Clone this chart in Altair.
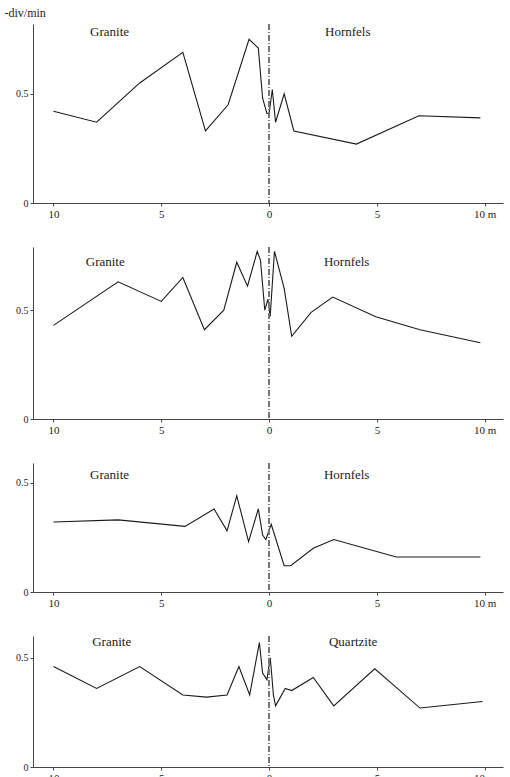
import altair as alt
import pandas as pd

# ---- data (distance in m: granite side negative, other side positive) ----
p1_x = [-10, -8, -6, -4, -2.95, -1.9, -0.93, -0.5, -0.3, -0.1, 0.0, 0.15, 0.3, 0.7, 1.15, 4.05, 6.95, 9.8]
p1_y = [0.42, 0.37, 0.55, 0.69, 0.33, 0.45, 0.75, 0.71, 0.48, 0.41, 0.41, 0.52, 0.37, 0.50, 0.33, 0.27, 0.40, 0.39]

p2_x = [-10, -7, -5, -4, -3, -2.1, -1.5, -1.0, -0.55, -0.4, -0.2, -0.05, 0.05, 0.25, 0.7, 1.05, 1.95, 2.95, 4.95, 7.0, 9.8]
p2_y = [0.43, 0.63, 0.54, 0.65, 0.41, 0.50, 0.72, 0.61, 0.77, 0.73, 0.50, 0.55, 0.47, 0.77, 0.60, 0.38, 0.49, 0.56, 0.47, 0.41, 0.35]

p3_x = [-10, -7, -3.9, -2.55, -1.95, -1.5, -0.95, -0.5, -0.3, -0.15, 0.1, 0.7, 1.0, 2.05, 3.0, 5.9, 9.8]
p3_y = [0.32, 0.33, 0.30, 0.38, 0.28, 0.44, 0.23, 0.38, 0.26, 0.24, 0.31, 0.12, 0.12, 0.20, 0.24, 0.16, 0.16]

p4_x = [-10, -8, -6, -4, -2.9, -1.95, -1.4, -0.9, -0.45, -0.3, -0.1, 0.05, 0.1, 0.2, 0.3, 0.75, 1.05, 2.05, 3.0, 4.9, 7.0, 9.9]
p4_y = [0.46, 0.36, 0.46, 0.33, 0.32, 0.33, 0.46, 0.33, 0.57, 0.43, 0.40, 0.50, 0.45, 0.33, 0.28, 0.36, 0.35, 0.41, 0.28, 0.45, 0.27, 0.30]

right_rocks = ["Hornfels", "Hornfels", "Hornfels", "Quartzite"]
left_rock = "Granite"
y_tops = [0.82, 0.79, 0.59, 0.60]
x_ticks = [-10, -5, 0, 5, 10]
y_ticks = [0, 0.5]
label_pos = [(-7.4, 3.65), (-7.6, 3.6), (-7.4, 3.6), (-7.3, 3.9)]
label_dy = [8, 15, 12, 6]

FONT = "Liberation Serif"
PX_PER_UNIT = 218
W = 470
series = [(p1_x, p1_y), (p2_x, p2_y), (p3_x, p3_y), (p4_x, p4_y)]

panels = []
for i, (xs, ys) in enumerate(series):
    df = pd.DataFrame({"x": xs, "y": ys})
    h = round(y_tops[i] * PX_PER_UNIT)
    xscale = alt.Scale(domain=[-10.95, 10.85], nice=False)
    yscale = alt.Scale(domain=[0, y_tops[i]], nice=False, zero=True)
    if i == 0:
        yaxis = alt.Axis(values=y_ticks, title="-div/min", titleAngle=0, titleAlign="left",
                         titleX=-29, titleY=-5, titleBaseline="bottom", titleFont=FONT,
                         titleFontSize=12, titleFontWeight="normal", titleColor="#222",
                         labelFont=FONT, labelFontSize=10, labelColor="#222",
                         grid=False, tickSize=3, domainColor="#444", tickColor="#444",
                         labelExpr="datum.value == 0 ? '0' : '0.5'")
    else:
        yaxis = alt.Axis(values=y_ticks, title=None,
                         labelFont=FONT, labelFontSize=10, labelColor="#222",
                         grid=False, tickSize=3, domainColor="#444", tickColor="#444",
                         labelExpr="datum.value == 0 ? '0' : '0.5'")
    xaxis = alt.Axis(values=x_ticks, title=None, grid=False, labelFont=FONT, labelFontSize=11,
                     labelColor="#222", tickSize=3, domainColor="#444", tickColor="#444",
                     labelPadding=2,
                     labelExpr="datum.value == 10 ? '10 m' : toString(abs(datum.value))")

    line = alt.Chart(df).mark_line(color="#1a1a1a", strokeWidth=1.1).encode(
        x=alt.X("x:Q", scale=xscale, axis=xaxis),
        y=alt.Y("y:Q", scale=yscale, axis=yaxis),
    )
    rule = alt.Chart(df).mark_rule(color="#777", strokeWidth=0.9, strokeDash=[6, 2, 1, 2]).encode(
        x=alt.datum(0, scale=xscale)
    )
    lab_df = pd.DataFrame({"x": [label_pos[i][0], label_pos[i][1]],
                           "t": [left_rock, right_rocks[i]]})
    text = alt.Chart(lab_df).mark_text(font=FONT, fontSize=13, color="#222",
                                       baseline="middle", align="center").encode(
        x=alt.X("x:Q", scale=xscale),
        y=alt.value(label_dy[i]),
        text="t:N",
    )
    panels.append(alt.layer(line, rule, text).properties(width=W, height=h))

chart = alt.vconcat(*panels, spacing=27).properties(
    padding={"left": 4, "top": 6, "right": 5, "bottom": 0},
    background="white",
).configure_view(stroke=None).configure_axis(labelFont=FONT)

chart.save("out.html", embed_options={"renderer": "svg", "actions": False})
